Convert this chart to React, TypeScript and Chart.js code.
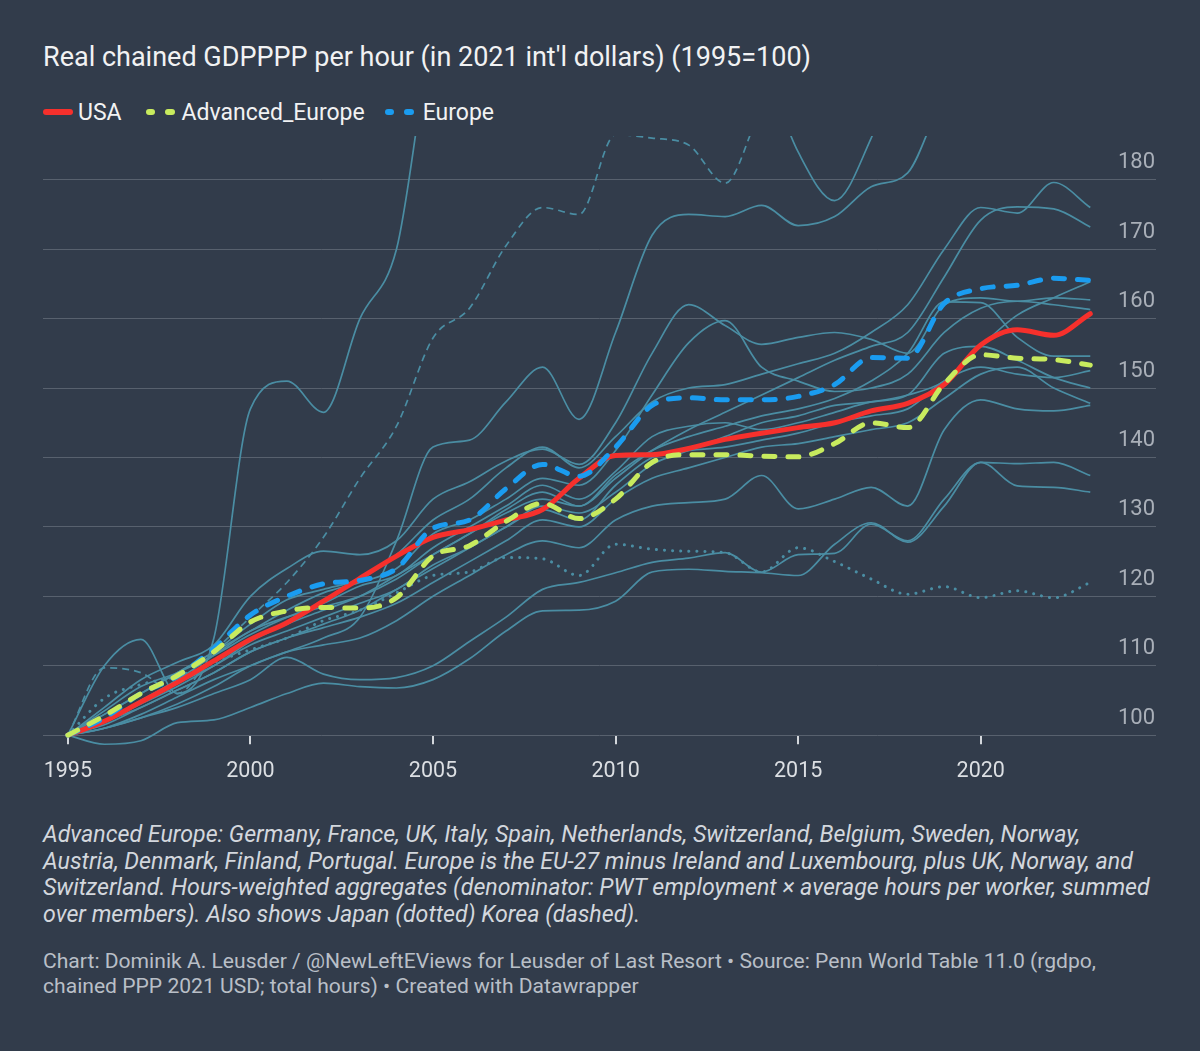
// Real chained GDP per hour, 1995=100 — Datawrapper-style dark chart
import React, { useEffect, useRef } from 'react';
import { Chart, registerables } from 'chart.js';

Chart.register(...registerables);

const BG = '#323c4b';
const THIN = '#4a8da3';

const years = [
  1995, 1996, 1997, 1998, 1999, 2000, 2001, 2002, 2003, 2004,
  2005, 2006, 2007, 2008, 2009, 2010, 2011, 2012, 2013, 2014,
  2015, 2016, 2017, 2018, 2019, 2020, 2021, 2022, 2023,
];

const xTickYears = [1995, 2000, 2005, 2010, 2015, 2020];
const yTickValues = [100, 110, 120, 130, 140, 150, 160, 170, 180];

// highlighted series
const usa = [100, 102, 104.8, 107.6, 110.7, 113.8, 116.2, 119.3, 122.6, 125.8, 128.5, 129.6, 131, 132.5, 137, 140.3, 140.4, 141.3, 142.6, 143.5, 144.3, 145, 146.7, 147.8, 150.5, 156.2, 158.4, 157.6, 160.7];
const advancedEurope = [100, 102.8, 106, 108.6, 112, 116.3, 117.9, 118.4, 118.3, 119.8, 125.8, 127.3, 130.8, 133.4, 131.2, 134, 139.3, 140.4, 140.4, 140.2, 140.1, 142, 145, 144.3, 150.6, 154.8, 154.3, 154.1, 153.3];
const europe = [100, 102.5, 106, 108.5, 112.5, 117.3, 120, 121.8, 122.3, 124, 129.8, 131, 135.5, 139, 137.3, 141.5, 147.5, 148.6, 148.3, 148.3, 148.8, 150.5, 154.4, 154.3, 162.2, 164.3, 164.8, 165.8, 165.5];

// comparison countries
const japan = [100, 105.3, 107.3, 108.5, 110.5, 112.3, 114, 116.5, 118, 120.5, 123, 123.5, 125.6, 125.4, 123, 127.5, 126.8, 126.5, 126.3, 123.5, 127, 125, 122.5, 120.3, 121.4, 119.8, 120.8, 119.8, 122];
const korea = [100, 109.7, 109, 106, 112, 117, 122, 128.5, 137, 144.5, 157.2, 161.5, 170.5, 176, 175, 186.5, 186, 185, 179.5, 190, 194, 197, 200, 203, 206, 210, 212, 214, 216];

// individual European countries (thin lines)
const country01 = [100, 110, 113.8, 106, 114, 147, 151, 146.5, 160, 170, 200, 205, 208, 206, 203, 206, 210, 208, 205, 197, 184, 177, 186, 200, 208, 215, 222, 226, 228];
const country02 = [100, 101, 102.5, 104.5, 107, 110, 112, 114, 117, 128, 141.5, 142.5, 148, 153, 145.5, 158, 172, 175, 174.7, 176.3, 173.4, 174.7, 179, 181, 192, 196, 198, 200, 202];
const country03 = [100, 103, 106, 109, 112, 116, 119.5, 121, 122.5, 126, 131, 134, 138.5, 141.5, 138.5, 143, 148, 150, 150.5, 152, 153.5, 155, 158, 162, 170, 176, 175.2, 179.6, 176];
const country04 = [100, 102, 105, 108, 111.5, 115, 117, 118.5, 120, 122.5, 126, 129, 132, 134, 133, 137, 141, 144, 146.5, 149, 151.5, 154, 156, 158, 166, 174.2, 176.1, 175.8, 173.2];
const country05 = [100, 101.5, 104, 106.5, 109, 112, 114, 116, 118, 121, 124, 127, 130, 133, 132, 135, 139, 141, 143, 145, 146, 147.5, 148, 149, 151, 156, 160.5, 163, 165.3];
const country06 = [100, 104, 108, 110.5, 113, 120, 124, 126.5, 126, 128, 134, 136.5, 139.5, 141.2, 139, 145, 155, 162, 159, 156.3, 157.3, 158, 157, 155, 162, 163, 162.5, 163, 162.7];
const country07 = [100, 103, 106, 109, 112, 115, 118, 120.5, 122, 124, 129, 131, 134, 137, 136, 141, 149, 156.5, 159.7, 153, 151, 149.5, 150, 152, 158, 161.5, 162.5, 162, 161.3];
const country08 = [100, 102, 104.5, 107, 110, 113.5, 116, 118, 120, 123, 126, 129, 132.5, 135, 133, 137.5, 141, 143, 144.5, 146, 147, 148.5, 151, 155, 162.4, 162.3, 157.3, 154.6, 154.6];
const country09 = [100, 102, 104, 106.5, 109, 112, 114, 115.5, 117, 119, 122, 125, 128, 131, 130, 134, 137, 138.5, 140, 141.5, 142, 143, 144, 145, 148.5, 152, 153, 150, 147.8];
const country10 = [100, 101, 103, 105.5, 108, 110, 112, 113, 114, 116.5, 120, 123, 126, 128, 127, 131, 133, 133.5, 134, 137.4, 132.6, 134, 135.7, 133, 144, 148.3, 147, 146.7, 147.5];
const country11 = [100, 101, 102.5, 104, 106, 108, 111.2, 108.8, 108, 108.3, 110, 113.5, 117, 121, 122, 123.4, 124.9, 125.5, 126.3, 123.5, 126, 126.2, 130.4, 128, 134, 139.3, 139.1, 139.3, 137.4];
const country12 = [100, 98.7, 99.2, 101.8, 102.2, 104, 106, 107.5, 107, 106.8, 108, 111, 115, 117.9, 118, 119.3, 123.5, 123.9, 123.6, 123.4, 123, 127.5, 130.6, 127.8, 133, 139.3, 135.9, 135.7, 135];
const country13 = [100, 102, 105, 107.5, 110, 113, 115, 117, 119, 121, 124.5, 127, 130, 132.5, 131, 136, 140, 141, 141.5, 142.5, 143.5, 145, 146, 147, 151, 153, 152, 151.5, 152.5];
const country14 = [100, 103.5, 107, 109, 111.5, 114.5, 117, 119, 121.5, 123, 127, 130, 133, 136, 134, 138, 143, 144.5, 145, 144, 145, 146.5, 148, 149, 155, 156, 154, 151.5, 150];

const countries = [
  country01, country02, country03, country04, country05, country06, country07,
  country08, country09, country10, country11, country12, country13, country14,
];

const toPoints = (vals: number[]) => vals.map((v, i) => ({ x: years[i], y: v }));

const FONT = 'Roboto, "Noto Sans", sans-serif';

document.body.style.margin = '0';
document.body.style.background = BG;

const GdpChart: React.FC = () => {
  const canvasRef = useRef<HTMLCanvasElement>(null);

  useEffect(() => {
    if (!canvasRef.current) return;
    const clip = { left: 0, top: 0, right: 0, bottom: 20 } as any;
    const base = {
      pointRadius: 0,
      pointHoverRadius: 0,
      cubicInterpolationMode: 'monotone' as const,
      fill: false,
      clip,
    };

    const chart = new Chart(canvasRef.current, {
      type: 'line',
      data: {
        datasets: [
          {
            ...base,
            label: 'Advanced_Europe',
            data: toPoints(advancedEurope),
            borderColor: '#c8eb5e',
            borderWidth: 5,
            borderDash: [11, 13],
            borderCapStyle: 'round',
          },
          {
            ...base,
            label: 'Europe',
            data: toPoints(europe),
            borderColor: '#1a9cf0',
            borderWidth: 5,
            borderDash: [11, 13],
            borderCapStyle: 'round',
          },
          {
            ...base,
            label: 'USA',
            data: toPoints(usa),
            borderColor: '#f6302c',
            borderWidth: 5,
            borderCapStyle: 'round',
          },
          {
            ...base,
            label: 'Japan',
            data: toPoints(japan),
            borderColor: THIN,
            borderWidth: 3,
            borderDash: [0.1, 8],
            borderCapStyle: 'round',
          },
          {
            ...base,
            label: 'Korea',
            data: toPoints(korea),
            borderColor: THIN,
            borderWidth: 1.7,
            borderDash: [7, 5],
          },
          ...countries.map((c, i) => ({
            ...base,
            label: 'country' + (i + 1),
            data: toPoints(c),
            borderColor: THIN,
            borderWidth: 1.7,
          })),
        ] as any,
      },
      options: {
        responsive: true,
        maintainAspectRatio: false,
        animation: false,
        layout: { padding: 0 },
        events: [],
        plugins: {
          legend: { display: false },
          tooltip: { enabled: false },
        },
        scales: {
          x: {
            type: 'linear',
            min: 1994.32,
            max: 2024.8,
            afterBuildTicks: (scale: any) => {
              scale.ticks = xTickYears.map((v) => ({ value: v }));
            },
            // 축 라벨 때문에 생기는 좌우 여백 제거
            afterFit: (scale: any) => {
              scale.paddingLeft = 0;
              scale.paddingRight = 0;
            },
            grid: {
              display: true,
              drawOnChartArea: false,
              drawTicks: true,
              tickLength: 9,
              color: '#d3d7dc',
              lineWidth: 2,
            },
            border: { display: false },
            ticks: {
              autoSkip: false,
              maxRotation: 0,
              color: '#dcdfe3',
              padding: 15,
              font: { family: FONT, size: 21.5 },
              callback: (v: any) => String(v),
            },
          },
          y: {
            type: 'linear',
            position: 'right',
            min: 100,
            max: 186.3,
            afterBuildTicks: (scale: any) => {
              scale.ticks = yTickValues.map((v) => ({ value: v }));
            },
            afterFit: (scale: any) => {
              scale.paddingTop = 0;
              scale.paddingBottom = 0;
            },
            grid: {
              color: '#58616e',
              lineWidth: 1,
              drawTicks: false,
            },
            border: { display: false },
            ticks: {
              mirror: true,
              padding: -1,
              labelOffset: -17,
              color: '#a9afb8',
              font: { family: FONT, size: 22 },
              callback: (v: any) => String(v),
            },
          },
        },
      },
    });

    return () => {
      chart.destroy();
    };
  }, []);

  return <canvas ref={canvasRef} />;
};

const Dash: React.FC<{ color: string; after: number }> = ({ color, after }) => (
  <span style={{ display: 'inline-flex', gap: 10, marginRight: after }}>
    <span style={{ width: 9, height: 6, borderRadius: 3, background: color }} />
    <span style={{ width: 10, height: 6, borderRadius: 3, background: color }} />
  </span>
);

const App: React.FC = () => {
  return (
    <div
      style={{
        position: 'relative',
        width: 1200,
        height: 1051,
        background: BG,
        fontFamily: FONT,
        overflow: 'hidden',
      }}
    >
      <div
        style={{
          position: 'absolute',
          left: 43,
          top: 41,
          fontSize: 27,
          lineHeight: '32px',
          color: '#f1f2f3',
          whiteSpace: 'nowrap',
        }}
      >
        Real chained GDPPPP per hour (in 2021 int'l dollars) (1995=100)
      </div>

      <div
        style={{
          position: 'absolute',
          left: 43,
          top: 98,
          height: 28,
          display: 'flex',
          alignItems: 'center',
          fontSize: 23,
          color: '#f1f2f3',
          whiteSpace: 'nowrap',
        }}
      >
        <span style={{ width: 30, height: 6, borderRadius: 3, background: '#f6302c', marginRight: 5 }} />
        <span style={{ marginRight: 24 }}>USA</span>
        <Dash color="#c8eb5e" after={7} />
        <span style={{ marginRight: 20 }}>Advanced_Europe</span>
        <Dash color="#1a9cf0" after={9} />
        <span>Europe</span>
      </div>

      <div style={{ position: 'absolute', left: 43, top: 136, width: 1113, height: 664 }}>
        <GdpChart />
      </div>

      <div
        style={{
          position: 'absolute',
          left: 43,
          top: 821,
          fontSize: 23.2,
          lineHeight: '26.7px',
          fontStyle: 'italic',
          color: '#d3d7dd',
          whiteSpace: 'nowrap',
        }}
      >
        Advanced Europe: Germany, France, UK, Italy, Spain, Netherlands, Switzerland, Belgium, Sweden, Norway,
        <br />
        Austria, Denmark, Finland, Portugal. Europe is the EU-27 minus Ireland and Luxembourg, plus UK, Norway, and
        <br />
        Switzerland. Hours-weighted aggregates (denominator: PWT employment × average hours per worker, summed
        <br />
        over members). Also shows Japan (dotted) Korea (dashed).
      </div>

      <div
        style={{
          position: 'absolute',
          left: 43,
          top: 948,
          fontSize: 21.1,
          lineHeight: '25px',
          color: '#b9bfc7',
          whiteSpace: 'nowrap',
        }}
      >
        Chart: Dominik A. Leusder / @NewLeftEViews for Leusder of Last Resort • Source: Penn World Table 11.0 (rgdpo,
        <br />
        chained PPP 2021 USD; total hours) • Created with Datawrapper
      </div>
    </div>
  );
};

export default App;
